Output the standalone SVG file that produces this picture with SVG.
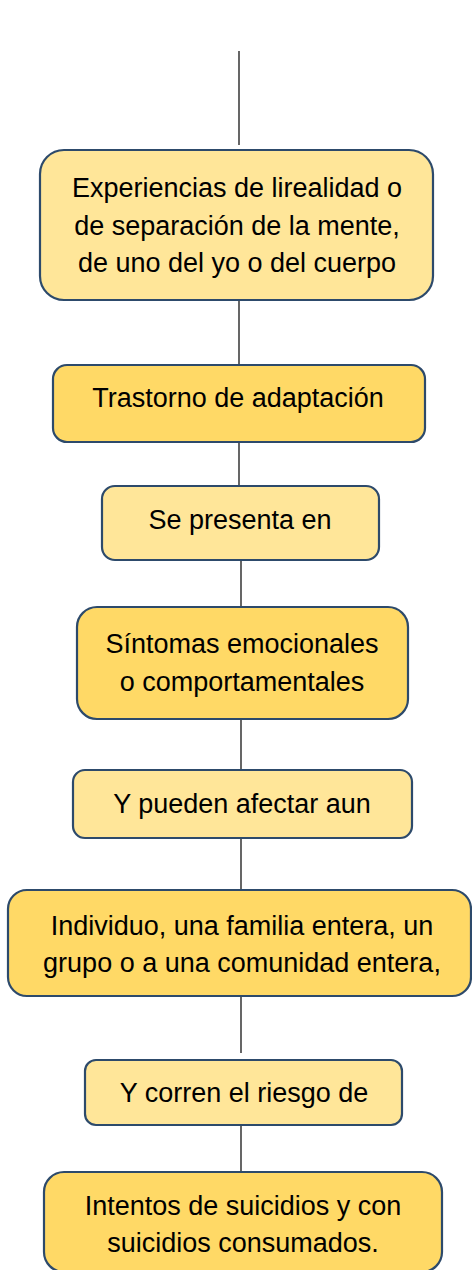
<svg xmlns="http://www.w3.org/2000/svg" width="472" height="1270" viewBox="0 0 472 1270">
<style>
.light{fill:#FFE699;stroke:#2D4A6B;stroke-width:2.2}
.dark{fill:#FFD966;stroke:#2D4A6B;stroke-width:2.2}
text{font-family:"Liberation Sans",Arial,sans-serif;font-size:27px;fill:#000;text-anchor:middle}
.conn line{stroke:#000;stroke-width:1.2}
</style>
<rect width="472" height="1270" fill="#fff"/>
<g class="conn" id="connectors">
<line x1="239" y1="51" x2="239" y2="145"/>
<line x1="239" y1="300" x2="239" y2="365"/>
<line x1="239" y1="442" x2="239" y2="486"/>
<line x1="241" y1="560" x2="241" y2="607"/>
<line x1="241" y1="714" x2="241" y2="770"/>
<line x1="241" y1="838" x2="241" y2="890"/>
<line x1="241" y1="996" x2="241" y2="1053"/>
<line x1="241" y1="1125" x2="241" y2="1172"/>
</g>
<g id="n1">
<rect class="light" x="40" y="150" width="393" height="150" rx="24"/>
<text x="237" y="197">Experiencias de lirealidad o</text>
<text x="237" y="235">de separación de la mente,</text>
<text x="237" y="272">de uno del yo o del cuerpo</text>
</g>
<g id="n2">
<rect class="dark" x="53" y="365" width="372" height="77" rx="14"/>
<text x="238" y="407">Trastorno de adaptación</text>
</g>
<g id="n3">
<rect class="light" x="102" y="486" width="277" height="74" rx="13"/>
<text x="240" y="529">Se presenta en</text>
</g>
<g id="n4">
<rect class="dark" x="77" y="607" width="331" height="112" rx="20"/>
<text x="242" y="653">Síntomas emocionales</text>
<text x="242" y="691">o comportamentales</text>
</g>
<g id="n5">
<rect class="light" x="73" y="770" width="339" height="68" rx="12"/>
<text x="242" y="813">Y pueden afectar aun</text>
</g>
<g id="n6">
<rect class="dark" x="8" y="890" width="463" height="106" rx="19"/>
<text x="242" y="935">Individuo, una familia entera, un</text>
<text x="242" y="972">grupo o a una comunidad entera,</text>
</g>
<g id="n7">
<rect class="light" x="85" y="1060" width="317" height="65" rx="11"/>
<text x="244" y="1102">Y corren el riesgo de</text>
</g>
<g id="n8">
<rect class="dark" x="44" y="1172" width="398" height="100" rx="20"/>
<text x="243" y="1215">Intentos de suicidios y con</text>
<text x="243" y="1252">suicidios consumados.</text>
</g>
</svg>
